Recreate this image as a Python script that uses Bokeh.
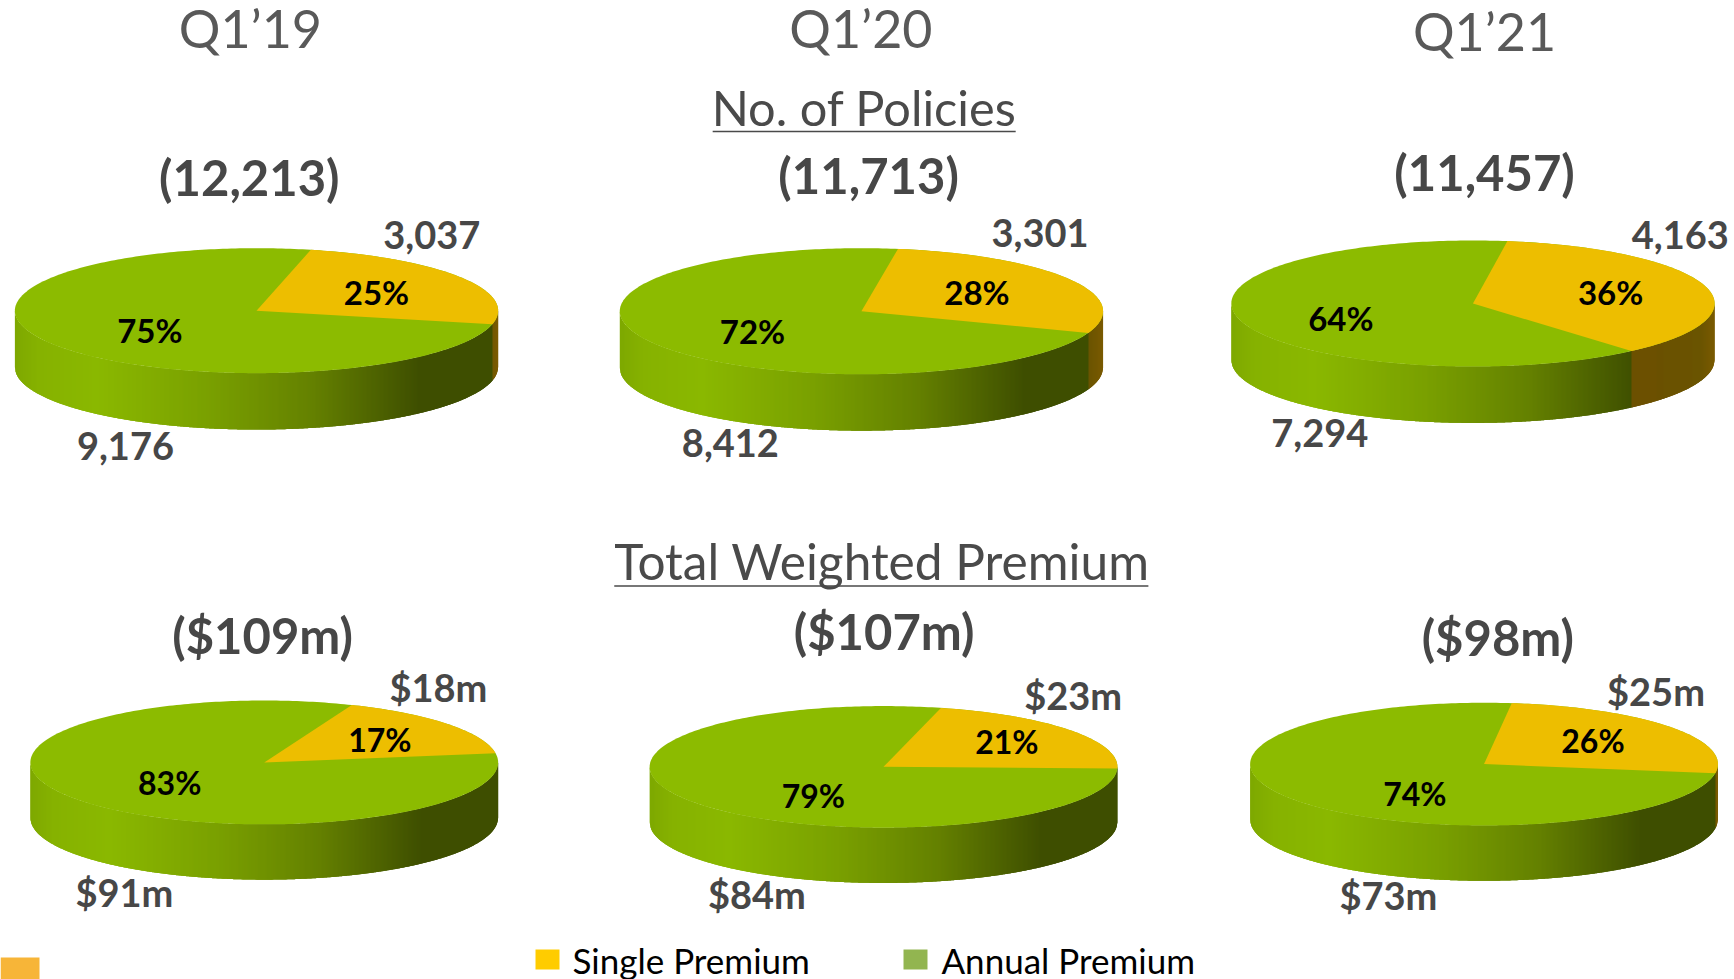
import math
from bokeh.plotting import figure
from bokeh.core.properties import value
from bokeh.embed import file_html
from bokeh.resources import INLINE

# ---- data ----
periods = ["Q1’19", "Q1’20", "Q1’21"]
section_titles = ["No. of Policies", "Total Weighted Premium"]
policies_single = [3037, 3301, 4163]
policies_annual = [9176, 8412, 7294]
premium_single = [18, 23, 25]
premium_annual = [91, 84, 73]
policies_pct_single = [25, 28, 36]
policies_pct_annual = [75, 72, 64]
premium_pct_single = [17, 21, 26]
premium_pct_annual = [83, 79, 74]
legend_labels = ["Single Premium", "Annual Premium"]

# ---- layout (page pixels) ----
K = 1734 / 1568
GREEN, YELLOW = "#8cbb00", "#edbe00"
GRAY = "#474747"
FONT = value("Lato")

# left, right, top, top-face bottom, side bottom, first slice start angle
pie_boxes = [
    (13, 450, 224, 337, 388, 13.0), (560, 997, 224, 338, 389, 8.7), (1113, 1550, 217, 331, 382, 8.2),
    (27, 450, 633, 745, 795, 22.0), (587, 1010, 638, 748, 798, 14.2), (1130, 1553, 635, 746, 796, 6.8),
]
period_pos = [(226, 25.2), (778, 25.2), (1342, 27.2)]
title_pos = [(781, 96.2), (797, 507)]
title_under = [(644, 918, 118.5), (555, 1038, 529.5)]
total_pos = [(225, 159.5), (785, 157.5), (1342, 155.5), (237, 573.5), (799, 570.5), (1354, 575.5)]
single_pos = [(390, 212), (940, 210), (1519, 212), (396, 621.2), (970, 628.2), (1497, 624.2)]
annual_pos = [(113, 403), (660, 400), (1193, 391), (112, 806.2), (684, 808.2), (1255, 809.2)]
pct_s_pos = [(340, 263.3), (883, 263.3), (1456, 263.3), (343, 668.2), (910, 670.2), (1440, 669.2)]
pct_a_pos = [(135, 298.3), (680, 299.3), (1212, 287.3), (153, 707.2), (735, 719.2), (1279, 717.2)]

p = figure(width=1734, height=979, x_range=(0, 1734), y_range=(979, 0),
           output_backend="svg", toolbar_location=None, min_border=0,
           x_axis_location=None, y_axis_location=None)
p.grid.visible = False
p.outline_line_color = None
p.background_fill_color = "white"
p.styles = {"position": "absolute", "left": "0px", "top": "0px"}


def lerp_stops(t, stops):
    for (a, ca), (b, cb) in zip(stops, stops[1:]):
        if t <= b:
            f = (t - a) / (b - a) if b > a else 0
            c = [round(ca[i] + (cb[i] - ca[i]) * f) for i in range(3)]
            return "#%02x%02x%02x" % tuple(c)
    return "#%02x%02x%02x" % stops[-1][1]


green_stops = [(0, (126, 168, 0)), (0.05, (134, 178, 0)), (0.17, (138, 184, 0)), (0.4, (122, 160, 0)),
               (0.62, (100, 128, 0)), (0.84, (62, 78, 0)), (1, (62, 78, 0))]
yellow_stops = [(0, (108, 82, 0)), (0.85, (108, 80, 0)), (0.97, (106, 84, 0)), (1, (122, 90, 0))]


def draw_pie(box, single, annual):
    l, r, t, b, s, start = [v * K if i < 5 else v for i, v in enumerate(box)]
    cx, cy, rx, ry, depth = (l + r) / 2, (t + b) / 2, (r - l) / 2, (b - t) / 2, s - b
    end = start + 360 * single / (single + annual)

    # side wall: vertical strips carrying the horizontal shading, each one
    # reaching under its right neighbour so that no white shows at the joins
    x_first, x_last = math.floor(l), math.ceil(r)
    xs, ys, cols = [], [], []
    edge = lambda x: cy + ry * math.sqrt(max(0, 1 - ((x - cx) / rx) ** 2))
    for x0 in range(x_first, x_last):
        xa, xb = max(x0, l), min(x0 + 1, r)
        if xb <= xa:
            continue
        xc = min(x0 + 2.5, r)
        um = ((xa + xb) / 2 - cx) / rx
        theta = 180 - math.degrees(math.asin(max(-1, min(1, um))))
        in_single = start <= theta <= end
        cols.append(lerp_stops(((xa + xb) / 2 - l) / (r - l), yellow_stops if in_single else green_stops))
        xs.append([xa, xb, xc, xc, xb, xa])
        ys.append([edge(xa), edge(xb), edge(xc), edge(xc) + depth, edge(xb) + depth, edge(xa) + depth])
    p.patches(xs, ys, fill_color=cols, line_color=None)

    # top face
    ang = [math.radians(a) for a in range(0, 361)]
    p.patch([cx + rx * math.sin(a) for a in ang], [cy - ry * math.cos(a) for a in ang],
            fill_color=GREEN, line_color=None)
    steps = max(2, int(end - start))
    sweep = [math.radians(start + (end - start) * i / steps) for i in range(steps + 1)]
    p.patch([cx] + [cx + rx * math.sin(a) for a in sweep], [cy] + [cy - ry * math.cos(a) for a in sweep],
            fill_color=YELLOW, line_color=None)


def put(texts, pos, size, color, style="normal"):
    p.text([c[0] * K for c in pos], [c[1] * K for c in pos], text=texts, text_font=FONT,
           text_font_size=value(size), text_color=color, text_font_style=style,
           text_align="center", text_baseline="middle")


all_single = policies_single + premium_single
all_annual = policies_annual + premium_annual
for box, a, c in zip(pie_boxes, all_single, all_annual):
    draw_pie(box, a, c)

put(periods, period_pos, "52px", "#595959")
put(section_titles[:1], title_pos[:1], "48.7px", "#4a4a4a")
put(section_titles[1:], title_pos[1:], "49.6px", "#4a4a4a")
p.segment([u[0] * K for u in title_under], [u[2] * K for u in title_under],
          [u[1] * K for u in title_under], [u[2] * K for u in title_under], line_color="#4a4a4a", line_width=1.6)

totals = [f"({s + a:,})" for s, a in zip(policies_single, policies_annual)] + \
         [f"(${s + a}m)" for s, a in zip(premium_single, premium_annual)]
put(totals, total_pos, "49px", GRAY, "bold")
put([f"{v:,}" for v in policies_single] + [f"${v}m" for v in premium_single], single_pos, "38px", GRAY, "bold")
put([f"{v:,}" for v in policies_annual] + [f"${v}m" for v in premium_annual], annual_pos, "38px", GRAY, "bold")
put([f"{v}%" for v in policies_pct_single], pct_s_pos[:3], "33px", "#000000", "bold")
put([f"{v}%" for v in policies_pct_annual], pct_a_pos[:3], "33px", "#000000", "bold")
put([f"{v}%" for v in premium_pct_single], pct_s_pos[3:], "32px", "#000000", "bold")
put([f"{v}%" for v in premium_pct_annual], pct_a_pos[3:], "32px", "#000000", "bold")

# legend and corner block
p.quad(left=[535, 903], right=[559, 927], top=[949, 949], bottom=[969, 969],
       fill_color=["#ffcc00", "#92b550"], line_color=None)
p.quad(left=[0], right=[39], top=[957], bottom=[979], fill_color="#f7b538", line_color=None)
p.text([572, 941], [959, 959], text=legend_labels, text_font=FONT, text_font_size=value("35px"),
       text_color="#000000", text_align="left", text_baseline="middle")

open("out.html", "w").write(file_html(p, INLINE))
